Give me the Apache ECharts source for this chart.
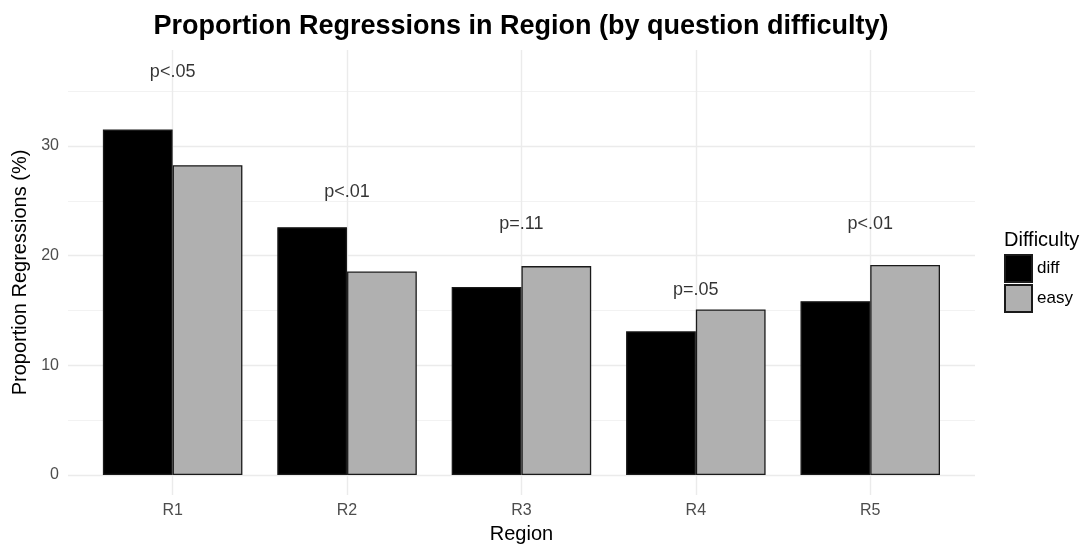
<!DOCTYPE html>
<html>
<head>
<meta charset="utf-8">
<script src="https://cdn.jsdelivr.net/npm/echarts@6/dist/echarts.min.js"></script>
<style>
html,body{margin:0;padding:0;background:#fff;}
#chart{width:1082px;height:544px;}
</style>
</head>
<body>
<div id="chart"></div>
<script>
var regions = ['R1', 'R2', 'R3', 'R4', 'R5'];
var diffValues = [31.5, 22.6, 17.15, 13.1, 15.85];
var easyValues = [28.25, 18.55, 19.05, 15.1, 19.15];
var pLabels = ['p<.05', 'p<.01', 'p=.11', 'p=.05', 'p<.01'];
var pLabelY = [36.75, 25.8, 22.9, 16.85, 22.9];
var yMajorTicks = [0, 10, 20, 30];
var yMinorTicks = [5, 15, 25, 35];
var xPositions = [1, 2, 3, 4, 5];

var FONT = 'Liberation Sans, Arial, Helvetica, sans-serif';
var yMin = -1.83, yMax = 38.76;

var chart = echarts.init(document.getElementById('chart'), null, {renderer: 'canvas'});
var option = {
  backgroundColor: '#ffffff',
  animation: false,
  title: [{
    text: 'Proportion Regressions in Region (by question difficulty)',
    left: 521, top: 13, textAlign: 'center', padding: 0,
    textStyle: {fontFamily: FONT, fontSize: 27, fontWeight: 'bold', color: '#000'}
  }, {
    text: 'Difficulty',
    left: 1004, top: 230, padding: 0,
    textStyle: {fontFamily: FONT, fontSize: 20, fontWeight: 'normal', color: '#000'}
  }],
  legend: {
    orient: 'vertical',
    left: 1004, top: 254, padding: 0,
    itemWidth: 27, itemHeight: 27, itemGap: 1,
    icon: 'rect',
    textStyle: {fontFamily: FONT, fontSize: 17, color: '#000'},
    data: ['diff', 'easy']
  },
  grid: [
    {left: 68, right: 107, top: 50, bottom: 49, outerBoundsMode: 'none', containLabel: false},
    {left: 85.44, right: 124.56, top: 50, bottom: 49, outerBoundsMode: 'none', containLabel: false}
  ],
  xAxis: [{
    type: 'value', gridIndex: 0, min: 0.4, max: 5.6,
    axisLine: {show: false}, axisLabel: {show: false},
    axisTick: {show: false, customValues: xPositions},
    splitLine: {show: true, lineStyle: {color: '#ebebeb', width: 1.4}}
  }, {
    type: 'category', gridIndex: 1, data: regions,
    axisLine: {show: false}, axisTick: {show: false},
    axisLabel: {fontFamily: FONT, fontSize: 16, color: '#4d4d4d', margin: 8},
    splitLine: {show: false},
    name: 'Region', nameLocation: 'middle', nameGap: 29,
    nameTextStyle: {fontFamily: FONT, fontSize: 20, color: '#000'}
  }],
  yAxis: [{
    type: 'value', gridIndex: 0, min: yMin, max: yMax,
    axisLine: {show: false},
    axisTick: {show: false, customValues: yMajorTicks},
    axisLabel: {customValues: yMajorTicks, fontFamily: FONT, fontSize: 16, color: '#4d4d4d', margin: 9},
    splitLine: {show: true, lineStyle: {color: '#ebebeb', width: 1.4}},
    name: 'Proportion Regressions (%)', nameLocation: 'middle', nameGap: 36, nameRotate: 90,
    nameTextStyle: {fontFamily: FONT, fontSize: 20, color: '#000'}
  }, {
    type: 'value', gridIndex: 0, min: yMin, max: yMax,
    axisLine: {show: false}, axisLabel: {show: false},
    axisTick: {show: false, customValues: yMinorTicks},
    splitLine: {show: true, lineStyle: {color: '#f2f2f2', width: 1}}
  }, {
    type: 'value', gridIndex: 1, min: yMin, max: yMax,
    axisLine: {show: false}, axisLabel: {show: false}, axisTick: {show: false},
    splitLine: {show: false}
  }],
  series: [{
    name: 'diff', type: 'bar', xAxisIndex: 1, yAxisIndex: 2,
    data: diffValues, barWidth: '40%', barGap: '0%',
    itemStyle: {color: '#000000', borderColor: '#1a1a1a', borderWidth: 1.3}
  }, {
    name: 'easy', type: 'bar', xAxisIndex: 1, yAxisIndex: 2,
    data: easyValues, barWidth: '40%', barGap: '0%',
    itemStyle: {color: '#b0b0b0', borderColor: '#1a1a1a', borderWidth: 1.3}
  }, {
    name: 'pvalues', type: 'scatter', xAxisIndex: 1, yAxisIndex: 2,
    symbolSize: 1, itemStyle: {color: 'rgba(0,0,0,0)'},
    data: regions.map(function (r, i) { return [r, pLabelY[i]]; }),
    label: {
      show: true, position: 'inside',
      formatter: function (p) { return pLabels[p.dataIndex]; },
      fontFamily: FONT, fontSize: 18, color: '#000'
    },
    emphasis: {disabled: true}, tooltip: {show: false}
  }]
};
chart.setOption(option);
</script>
</body>
</html>
